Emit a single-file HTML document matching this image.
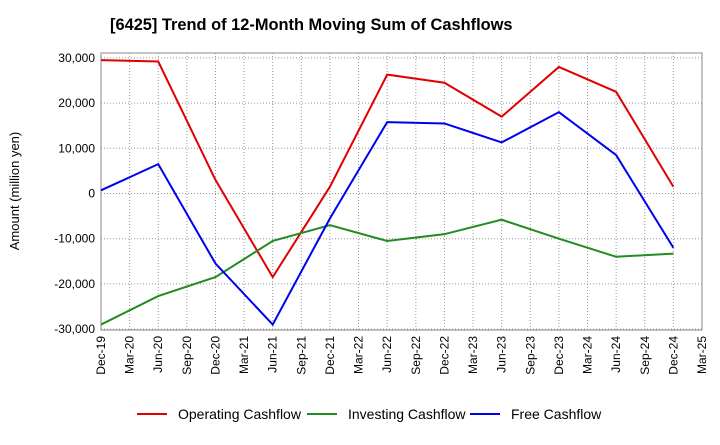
<!DOCTYPE html>
<html><head><meta charset="utf-8"><style>body{margin:0;background:#fff}svg{font-family:"Liberation Sans",sans-serif}</style></head>
<body>
<svg id="c" width="720" height="440" xmlns="http://www.w3.org/2000/svg">
<text x="110" y="30" font-size="16.4" font-weight="bold">[6425]  Trend of 12-Month Moving Sum of Cashflows</text>
<text transform="translate(19,191) rotate(-90)" text-anchor="middle" font-size="13">Amount (million yen)</text>
<g id="grid"></g><g id="axes"></g><g id="series"></g><g id="legend"></g>
</svg>
<script>
const xLabels=["Dec-19","Mar-20","Jun-20","Sep-20","Dec-20","Mar-21","Jun-21","Sep-21","Dec-21","Mar-22","Jun-22","Sep-22","Dec-22","Mar-23","Jun-23","Sep-23","Dec-23","Mar-24","Jun-24","Sep-24","Dec-24","Mar-25"];
const yTicks=[30000,20000,10000,0,-10000,-20000,-30000];
const pointQuarters=[0,2,4,6,8,10,12,14,16,18,20];
const operating=[29500,29200,3000,-18500,1500,26300,24500,17000,28000,22500,1500];
const investing=[-29000,-22700,-18500,-10500,-7000,-10500,-9000,-5800,-10000,-14000,-13300];
const freeCf=[700,6500,-15500,-29000,-5500,15800,15500,11300,18000,8500,-12000];
const NS="http://www.w3.org/2000/svg";
const L=101,R=702,T=53,B=330;
const x=q=>L+q*(R-L)/21;
const y=v=>193.5-v*45.2/10000;
function mk(p,t,a){const e=document.createElementNS(NS,t);for(const k in a)e.setAttribute(k,a[k]);p.appendChild(e);return e;}
const g=document.getElementById('grid'),ax=document.getElementById('axes'),s=document.getElementById('series'),lg=document.getElementById('legend');
xLabels.forEach((lb,i)=>{const X=x(i);
 const ln=mk(g,'line',{x1:X,x2:X,y1:T,y2:B,stroke:'#999','stroke-dasharray':'1,2'});
 
 const t=mk(ax,'text',{transform:`translate(${X+4},${B+6}) rotate(-90)`,'text-anchor':'end','font-size':'12'});t.textContent=lb;
 });
yTicks.forEach(v=>{const Y=y(v);
 const ln=mk(g,'line',{x1:L,x2:R,y1:Y,y2:Y,stroke:'#999','stroke-dasharray':'1,2'});
 
 const t=mk(ax,'text',{x:L-6,y:Y+4,'text-anchor':'end','font-size':'12'});t.textContent=v.toLocaleString('en-US');
 });
const fr=mk(ax,'rect',{x:L,y:T,width:R-L,height:B-T,fill:'none',stroke:'#888'});

const ser=[["Operating Cashflow",operating,"#e00000","operating-line"],["Investing Cashflow",investing,"#228b22","investing-line"],["Free Cashflow",freeCf,"#0000ee","free-line"]];
ser.forEach(([nm,d,c,id],k)=>{
 const pl=mk(s,'polyline',{points:d.map((v,i)=>x(pointQuarters[i])+','+y(v)).join(' '),fill:'none',stroke:c,'stroke-width':2});
 
 const lx=[137,307,470][k];
 const ll=mk(lg,'line',{x1:lx,x2:lx+30,y1:414,y2:414,stroke:c,'stroke-width':2});
 
 const t=mk(lg,'text',{x:lx+41,y:419,'font-size':'14'});t.textContent=nm;
 });
</script>
</body></html>
